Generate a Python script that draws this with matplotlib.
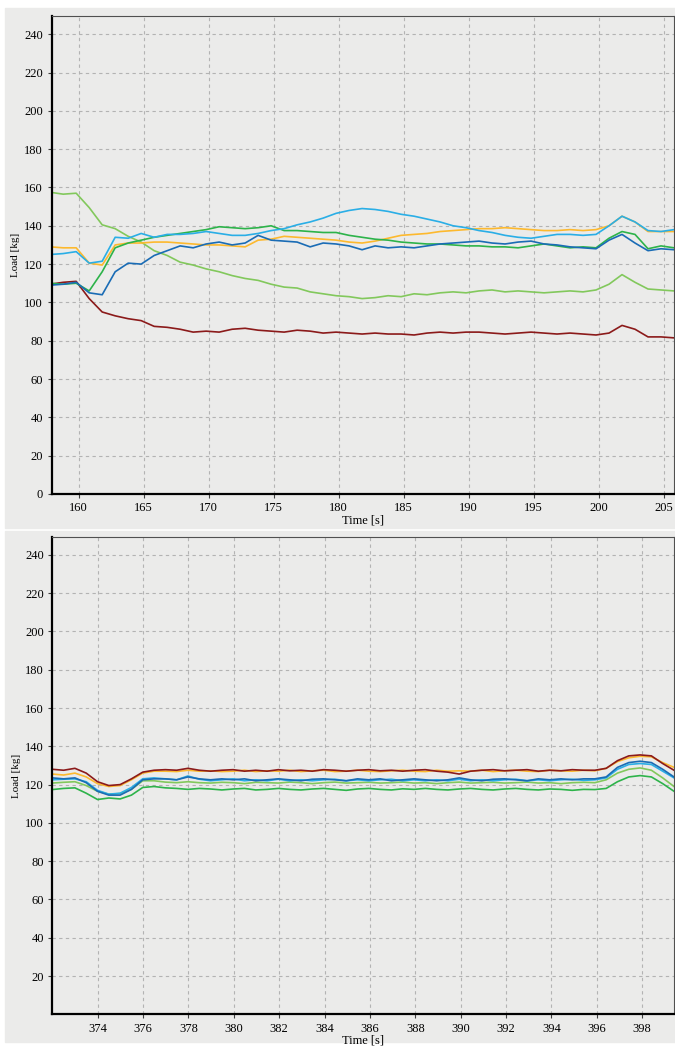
import matplotlib.pyplot as plt
from matplotlib.patches import Rectangle
import numpy as np

# Load per cell over time, two time windows (top / bottom)

t_top = np.arange(157.8, 206.0, 1.0)

top_lgreen = [157.5, 156.5, 157.0, 149.5, 140.5, 138.5, 134.5, 131.5, 127.0, 124.5,
              121.0, 119.5, 117.5, 116.0, 114.0, 112.5, 111.5, 109.5, 108.0, 107.5,
              105.5, 104.5, 103.5, 103.0, 102.0, 102.5, 103.5, 103.0, 104.5, 104.0,
              105.0, 105.5, 105.0, 106.0, 106.5, 105.5, 106.0, 105.5, 105.0, 105.5,
              106.0, 105.5, 106.5, 109.5, 114.5, 110.5, 107.0, 106.5, 106.0]
top_red = [109.5, 110.5, 111.0, 102.0, 95.0, 93.0, 91.5, 90.5, 87.5, 87.0,
           86.0, 84.5, 85.0, 84.5, 86.0, 86.5, 85.5, 85.0, 84.5, 85.5,
           85.0, 84.0, 84.5, 84.0, 83.5, 84.0, 83.5, 83.5, 83.0, 84.0,
           84.5, 84.0, 84.5, 84.5, 84.0, 83.5, 84.0, 84.5, 84.0, 83.5,
           84.0, 83.5, 83.0, 84.0, 88.0, 86.0, 82.0, 82.0, 81.5]
top_blue = [109.0, 109.5, 110.5, 105.0, 104.0, 116.0, 120.5, 120.0, 124.5, 127.0,
            129.5, 128.5, 130.5, 131.5, 130.0, 131.0, 135.0, 132.5, 132.0, 131.5,
            129.0, 131.0, 130.5, 129.5, 127.5, 129.5, 128.5, 129.0, 128.5, 129.5,
            130.5, 131.0, 131.5, 132.0, 131.0, 130.5, 131.5, 132.0, 130.5, 130.0,
            129.0, 128.5, 128.0, 132.5, 135.5, 131.0, 127.0, 128.0, 127.5]
top_green = [110.0, 109.5, 110.0, 106.0, 116.0, 128.5, 131.0, 132.5, 134.0, 135.0,
             136.0, 137.0, 138.0, 139.5, 139.0, 138.5, 139.0, 140.0, 137.5, 137.5,
             137.0, 136.5, 136.5, 135.0, 134.0, 133.0, 132.5, 131.5, 131.0, 130.5,
             130.5, 130.0, 129.5, 129.5, 129.0, 129.0, 128.5, 129.5, 130.5, 129.5,
             128.5, 129.0, 128.5, 133.5, 137.0, 135.5, 128.0, 129.5, 128.5]
top_lblue = [125.0, 125.5, 126.5, 120.5, 121.5, 134.0, 133.5, 136.0, 134.0, 135.5,
             135.5, 136.0, 137.0, 136.0, 135.0, 135.0, 136.0, 137.5, 138.5, 140.5,
             142.0, 144.0, 146.5, 148.0, 149.0, 148.5, 147.5, 146.0, 145.0, 143.5,
             142.0, 140.0, 139.0, 137.5, 136.5, 135.0, 134.0, 133.5, 134.5, 135.5,
             135.5, 135.0, 135.5, 140.0, 145.0, 142.0, 137.5, 137.0, 138.0]
top_yellow = [129.0, 128.5, 128.5, 120.5, 119.5, 130.0, 131.0, 131.0, 131.5, 131.5,
              131.0, 130.5, 130.0, 130.0, 129.5, 129.0, 132.5, 133.0, 134.5, 134.0,
              133.5, 133.0, 132.5, 131.5, 131.0, 132.0, 133.5, 135.0, 135.5, 136.0,
              137.0, 137.5, 138.0, 138.5, 138.5, 139.0, 138.5, 138.0, 137.5, 137.5,
              138.0, 137.5, 138.0, 140.0, 145.0, 142.0, 137.0, 137.0, 137.0]

t_bot = np.linspace(372.0, 399.4, 56)

bot_red = [128.0, 127.5, 128.5, 126.0, 121.5, 119.5, 120.0, 123.0, 126.5, 127.5,
           127.8, 127.5, 128.5, 127.5, 127.0, 127.5, 127.8, 127.0, 127.5, 127.0,
           127.8, 127.2, 127.5, 127.0, 127.8, 127.5, 127.0, 127.5, 127.8, 127.2,
           127.5, 127.0, 127.5, 127.8, 127.0, 126.5, 125.5, 127.0, 127.5, 127.8,
           127.2, 127.5, 127.8, 127.0, 127.5, 127.2, 127.8, 127.5, 127.5, 128.5,
           132.5, 135.0, 135.5, 135.0, 131.0, 127.5]
bot_yellow = [125.5, 125.0, 126.0, 124.0, 120.5, 119.0, 119.5, 122.5, 126.0, 127.0,
              127.0, 126.8, 127.5, 127.0, 127.2, 126.8, 127.0, 127.5, 126.8, 127.2,
              127.0, 127.5, 126.8, 127.2, 127.5, 126.8, 127.0, 127.5, 127.0, 126.8,
              127.2, 127.5, 127.0, 126.8, 127.5, 127.0, 127.2, 127.0, 127.5, 126.8,
              127.2, 127.5, 127.0, 126.8, 127.5, 127.2, 127.0, 127.5, 127.2, 128.5,
              132.0, 134.0, 134.8, 134.5, 131.5, 129.0]
bot_blue = [123.5, 123.0, 123.5, 121.0, 116.5, 114.5, 114.5, 117.5, 122.5, 123.0,
            123.0, 122.5, 124.0, 123.0, 122.5, 123.0, 122.5, 123.0, 122.0, 122.5,
            123.0, 122.5, 122.0, 122.8, 123.0, 122.5, 122.0, 123.0, 122.5, 123.0,
            122.0, 122.5, 123.0, 122.5, 122.0, 122.5, 123.5, 122.5, 122.0, 122.8,
            123.0, 122.5, 122.0, 123.0, 122.5, 123.0, 122.5, 123.0, 123.0, 124.0,
            129.0, 131.5, 132.2, 131.5, 128.0, 124.0]
bot_lblue = [122.5, 122.8, 123.0, 121.5, 117.0, 115.0, 115.5, 118.5, 123.0, 123.5,
             123.0, 122.5, 124.5, 122.8, 122.0, 122.5, 123.0, 122.0, 122.5, 122.0,
             122.8, 122.0, 122.5, 122.0, 122.5, 122.8, 122.0, 122.5, 122.0, 122.5,
             122.8, 122.0, 122.5, 122.0, 122.5, 122.0, 122.8, 122.0, 122.5, 122.0,
             122.5, 122.8, 122.0, 122.5, 122.0, 122.5, 122.8, 122.2, 122.5, 123.5,
             128.0, 130.5, 131.0, 130.5, 127.0, 123.5]
bot_lgreen = [120.8, 121.2, 121.5, 119.5, 116.5, 115.0, 115.3, 117.5, 122.0, 122.0,
              121.3, 121.0, 121.5, 121.0, 120.8, 121.2, 121.0, 120.5, 121.2, 121.0,
              120.8, 121.3, 121.0, 120.5, 121.0, 121.3, 120.8, 121.0, 121.2, 120.8,
              121.0, 121.3, 120.8, 121.0, 120.5, 121.0, 121.3, 120.8, 121.0, 121.2,
              120.8, 121.0, 121.3, 120.8, 121.0, 120.5, 121.0, 121.2, 121.0, 122.5,
              126.0, 128.0, 128.7, 127.5, 123.5, 119.0]
bot_green = [117.4, 118.0, 118.3, 115.5, 112.2, 113.0, 112.5, 114.5, 118.5, 119.0,
             118.3, 118.0, 117.5, 118.0, 117.7, 117.2, 117.7, 118.0, 117.2, 117.5,
             118.0, 117.5, 117.2, 117.7, 118.0, 117.5, 117.0, 117.7, 118.0, 117.5,
             117.2, 117.8, 117.5, 118.0, 117.5, 117.2, 117.7, 118.0, 117.5, 117.2,
             117.7, 118.0, 117.5, 117.2, 117.7, 117.5, 117.0, 117.5, 117.4, 118.0,
             121.5, 124.0, 124.7, 124.0, 120.5, 116.5]

top_xticks = [160, 165, 170, 175, 180, 185, 190, 195, 200, 205]
bot_xticks = [374, 376, 378, 380, 382, 384, 386, 388, 390, 392, 394, 396, 398]

c_red = '#8b1a1a'
c_yellow = '#fdb92e'
c_lblue = '#2aaee6'
c_blue = '#1a6cb5'
c_green = '#2db34a'
c_lgreen = '#82c85c'
bg = '#ebebea'

plt.rcParams['font.family'] = ['Liberation Serif', 'DejaVu Serif']
plt.rcParams['font.size'] = 9

fig = plt.figure(figsize=(6.75, 10.46), dpi=100)
fig.patch.set_facecolor('white')

# gray panels behind each chart
fig.patches.append(Rectangle((5 / 675, 1 - 528 / 1046), 1, 520 / 1046,
                             transform=fig.transFigure, color=bg, zorder=-10))
fig.patches.append(Rectangle((5 / 675, 1 - 1042 / 1046), 1, 511 / 1046,
                             transform=fig.transFigure, color=bg, zorder=-10))

ax1 = fig.add_axes([51.5 / 675, 1 - 494 / 1046, 622.5 / 675, 478 / 1046])
ax2 = fig.add_axes([52.3 / 675, 1 - 1014.3 / 1046, 621.7 / 675, 477.6 / 1046])


def style_axes(ax, xlim, xticks, yticks):
    ax.set_facecolor(bg)
    ax.set_xlim(xlim)
    ax.set_ylim(0, 249.5)
    ax.set_xticks(xticks)
    ax.set_yticks(yticks)
    ax.grid(True, color='#b3b3b3', linestyle=(0, (3, 3)), linewidth=0.8)
    ax.set_axisbelow(True)
    for side in ['top', 'right']:
        ax.spines[side].set_color('#505050')
        ax.spines[side].set_linewidth(0.8)
    for side in ['left', 'bottom']:
        ax.spines[side].set_color('black')
        ax.spines[side].set_linewidth(1.6)
    ax.tick_params(length=3, width=0.8, color='#404040', labelsize=9, pad=3)
    ax.set_ylabel('Load [kg]', fontsize=8, labelpad=3)
    ax.set_xlabel('Time [s]', fontsize=9, labelpad=0)


lw = 1.2

ax1.plot(t_top, top_red, color=c_red, lw=lw)
ax1.plot(t_top, top_lgreen, color=c_lgreen, lw=lw)
ax1.plot(t_top, top_yellow, color=c_yellow, lw=lw)
ax1.plot(t_top, top_green, color=c_green, lw=lw)
ax1.plot(t_top, top_lblue, color=c_lblue, lw=lw)
ax1.plot(t_top, top_blue, color=c_blue, lw=lw)
style_axes(ax1, (157.9, 205.8), top_xticks, range(0, 241, 20))

ax2.plot(t_bot, bot_green, color=c_green, lw=lw)
ax2.plot(t_bot, bot_lgreen, color=c_lgreen, lw=lw)
ax2.plot(t_bot, bot_lblue, color=c_lblue, lw=lw)
ax2.plot(t_bot, bot_blue, color=c_blue, lw=lw)
ax2.plot(t_bot, bot_yellow, color=c_yellow, lw=lw)
ax2.plot(t_bot, bot_red, color=c_red, lw=lw)
style_axes(ax2, (372.0, 399.4), bot_xticks, range(20, 241, 20))

fig.savefig('out.png', dpi=100, facecolor='white')
